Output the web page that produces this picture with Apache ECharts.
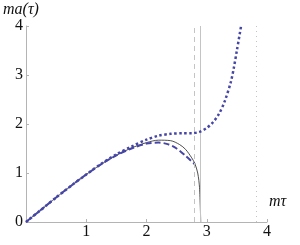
<!DOCTYPE html>
<html><head><meta charset="utf-8">
<script src="https://cdn.jsdelivr.net/npm/echarts@6/dist/echarts.min.js"></script>
<style>html,body{margin:0;padding:0;background:#fff}#c{width:300px;height:245px}</style>
</head><body><div id="c"></div>
<script>
var solidX = [0, 0.25, 0.5, 0.75, 1, 1.25, 1.5, 1.75, 2, 2.2, 2.4, 2.55, 2.65, 2.75, 2.8, 2.85, 2.88, 2.9];
var solidY = [0, 0.25, 0.5, 0.74, 0.97, 1.18, 1.36, 1.51, 1.62, 1.67, 1.66, 1.58, 1.48, 1.31, 1.2, 1.0, 0.7, 0];
var dashX = [0, 0.25, 0.5, 0.75, 1, 1.25, 1.5, 1.75, 2, 2.2, 2.35, 2.5, 2.65, 2.8];
var dashY = [0, 0.25, 0.5, 0.74, 0.97, 1.18, 1.36, 1.5, 1.6, 1.62, 1.59, 1.5, 1.35, 1.18];
var dotX = [0, 0.25, 0.5, 0.75, 1, 1.25, 1.5, 1.75, 2, 2.2, 2.4, 2.6, 2.75, 2.88, 3.0, 3.1, 3.2, 3.3, 3.4, 3.45, 3.5, 3.57];
var dotY = [0, 0.25, 0.5, 0.74, 0.97, 1.19, 1.38, 1.54, 1.68, 1.76, 1.8, 1.81, 1.81, 1.84, 1.92, 2.03, 2.2, 2.47, 2.86, 3.15, 3.5, 4.0];
var vDash = 2.79, vSolid = 2.9, vDot = 3.82;
var xTicks = ['', '1', '2', '3', '4'];
var yTicks = ['0', '1', '2', '3', '4'];

function pairs(xs, ys) { return xs.map(function (x, i) { return [x, ys[i]]; }); }
var serif = '"Liberation Serif", "DejaVu Serif", serif';
var axisGray = '#b4b4b4';
var blue = '#4646a6';

var chart = echarts.init(document.getElementById('c'), null, {renderer: 'canvas'});
chart.setOption({
  animation: false,
  grid: {left: 23, right: 33, top: 26, bottom: 23, containLabel: false},
  xAxis: {
    type: 'value', min: 0, max: 4, interval: 1,
    name: 'mτ', nameLocation: 'end', nameGap: 2,
    nameTextStyle: {fontFamily: serif, fontStyle: 'italic', fontSize: 16, color: '#111', verticalAlign: 'bottom', align: 'left', padding: [0, 0, 12, 0]},
    axisLine: {show: true, lineStyle: {color: axisGray, width: 1}},
    axisTick: {show: true, inside: true, length: 3, lineStyle: {color: axisGray}},
    axisLabel: {fontFamily: serif, fontSize: 16, color: '#111', margin: 2,
      formatter: function (v) { return xTicks[Math.round(v)]; }},
    splitLine: {show: false}
  },
  yAxis: {
    type: 'value', min: 0, max: 4, interval: 1,
    name: 'ma(τ)', nameLocation: 'end', nameGap: 5,
    nameTextStyle: {fontFamily: serif, fontStyle: 'italic', fontSize: 16, color: '#111', align: 'left', padding: [0, 0, 0, -23]},
    axisLine: {show: true, lineStyle: {color: axisGray, width: 1}},
    axisTick: {show: true, inside: true, length: 3, lineStyle: {color: axisGray}},
    axisLabel: {fontFamily: serif, fontSize: 16, color: '#111', margin: 3,
      formatter: function (v) { return yTicks[Math.round(v)]; }},
    splitLine: {show: false}
  },
  series: [
    {type: 'line', data: pairs(solidX, solidY), showSymbol: false, smooth: 0.3,
      lineStyle: {color: '#222', width: 0.8}, z: 3,
      markLine: {silent: true, symbol: 'none', label: {show: false},
        data: [
          {xAxis: vDash, lineStyle: {color: '#c4c4c4', type: [5, 4], width: 1}},
          {xAxis: vSolid, lineStyle: {color: '#c4c4c4', type: 'solid', width: 1}},
          {xAxis: vDot, lineStyle: {color: '#c4c4c4', type: [1, 4], width: 1}}
        ]}},
    {type: 'line', data: pairs(dashX, dashY), showSymbol: false, smooth: 0.3,
      lineStyle: {color: blue, width: 2, type: [6, 3]}, z: 4},
    {type: 'line', data: pairs(dotX, dotY), showSymbol: false, smooth: 0.3,
      lineStyle: {color: blue, width: 2.5, type: [2.5, 2.5]}, z: 5}
  ]
});
</script></body></html>
